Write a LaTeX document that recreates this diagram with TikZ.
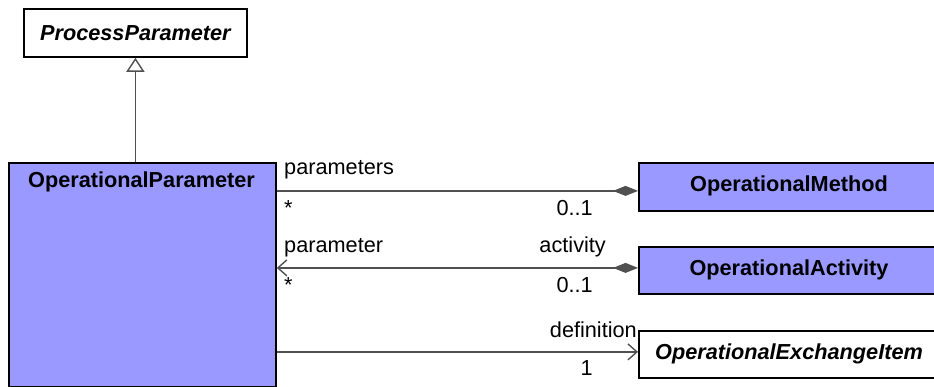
\documentclass[tikz,border=0pt]{standalone}
\usepackage{fontspec}
\setmainfont{Liberation Sans}
\usetikzlibrary{arrows.meta}
\definecolor{umlblue}{RGB}{153,153,255}
\definecolor{linegray}{RGB}{80,80,80}
\tikzset{
  box/.style={draw=black, line width=1.8pt, fill=umlblue, inner sep=0pt, anchor=north west},
  abox/.style={box, fill=white},
  cls/.style={font=\fontsize{21.7}{26}\selectfont\bfseries, inner sep=0pt},
  acls/.style={font=\fontsize{21.7}{26}\selectfont\bfseries\itshape, inner sep=0pt},
  lbl/.style={font=\fontsize{21.7}{26}\selectfont, inner sep=0pt},
  conn/.style={draw=linegray, line width=1.6pt},
}
\begin{document}
\begin{tikzpicture}[x=1pt,y=-1pt]
\clip (0,0) rectangle (934,387);
\fill[white] (0,0) rectangle (934,387);
% boxes
\node[abox, minimum width=223pt, minimum height=48pt] (pp) at (23,8) {};
\node[acls] (ppt) at (pp.center) {ProcessParameter};
\node[box, minimum width=267pt, minimum height=224pt] (op) at (8,162) {};
\node[cls] (opt) at (141.5,182) {OperationalParameter};
\node[box, minimum width=320pt, minimum height=48pt] (om) at (638,162) {};
\node[cls] (omt) at (789,186) {OperationalMethod};
\node[box, minimum width=320pt, minimum height=47pt] (oa) at (638,246) {};
\node[cls] (oat) at (789,269.5) {OperationalActivity};
\node[abox, minimum width=320pt, minimum height=47pt] (oe) at (638,330) {};
\node[acls] (oet) at (789,353.5) {OperationalExchangeItem};
% connector end points
\coordinate (omw) at ([yshift=-4pt]om.west);
\coordinate (oaw) at ([yshift=2.5pt]oa.west);
\coordinate (oew) at ([yshift=2.5pt]oe.west);
% connectors
\draw[conn, -{Triangle[open, length=14pt, width=18pt, line width=1.4pt]}] (pp.south |- op.north) -- (pp.south);
\draw[conn, -{Diamond[length=25pt, width=10pt]}] (op.east |- omw) -- (omw);
\draw[conn, {Straight Barb[length=9pt, width=16pt, line width=1.4pt]}-{Diamond[length=25pt, width=10pt]}] (op.east |- oaw) -- (oaw);
\draw[conn, -{Straight Barb[length=9pt, width=16pt, line width=1.4pt]}] (op.east |- oew) -- (oew);
% labels
\node[lbl, anchor=base west] (l1) at (284,175) {parameters};
\node[lbl, anchor=base west] (l2) at (284,216) {*};
\node[lbl, anchor=base east] (l3) at (593,216) {0..1};
\node[lbl, anchor=base west] (l4) at (284,253) {parameter};
\node[lbl, anchor=base east] (l5) at (606,253) {activity};
\node[lbl, anchor=base west] (l6) at (284,293) {*};
\node[lbl, anchor=base east] (l7) at (593,293) {0..1};
\node[lbl, anchor=base east] (l8) at (637,337) {definition};
\node[lbl, anchor=base east] (l9) at (593,375) {1};
\end{tikzpicture}
\end{document}
